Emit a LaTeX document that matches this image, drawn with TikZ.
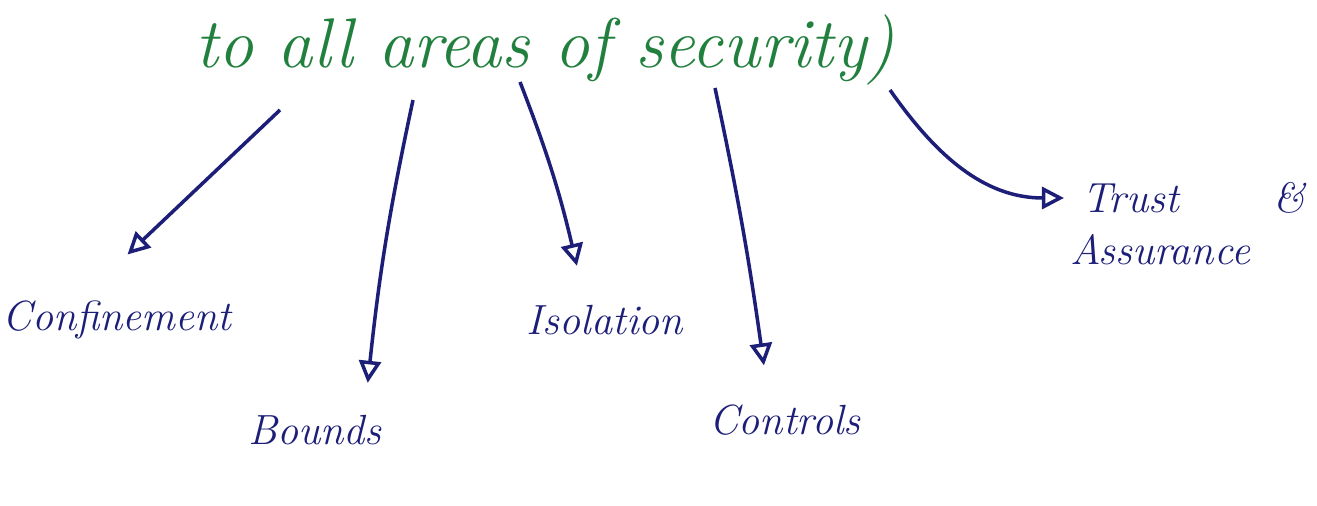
\documentclass[tikz,border=0pt]{standalone}
\usepackage{xcolor}
\usepackage{tikz}
\usetikzlibrary{arrows.meta}
\definecolor{inkgreen}{RGB}{34,128,62}
\definecolor{inknavy}{RGB}{28,30,120}

\begin{document}
\begin{tikzpicture}[
  term/.style={text=inknavy,font=\fontsize{12}{14}\selectfont\itshape,inner sep=1pt},
  head/.style={text=inkgreen,font=\fontsize{20}{22}\selectfont\itshape,inner sep=1pt},
  arr/.style={-{Triangle[open,length=2.2mm,width=2.2mm]},draw=inknavy,line width=1pt}
]
  \useasboundingbox (0,0) rectangle (13.17,-5.06);
  \node[head] (areas) at (5.45,-0.5) {to all areas of security)};

  % the five headings under the green line
  \node[term] (confine) at (1.17,-3.2) {Confinement};
  \node[term] (bounds) at (3.15,-4.3) {Bounds};
  \node[term] (isol) at (6.05,-3.2) {Isolation};
  \node[term] (ctrl) at (7.85,-4.2) {Controls};
  \node[term,anchor=west] (trust) at (10.78,-1.98) {Trust\hspace{0.95cm}\&};
  \node[term] (assure) at (11.6,-2.5) {Assurance};

  % start points of the strokes, just below the words
  \coordinate (s1) at (2.8,-1.1);
  \coordinate (s2) at (4.13,-1.0);
  \coordinate (s3) at (5.2,-0.82);
  \coordinate (s4) at (7.15,-0.88);
  \coordinate (s5) at (8.9,-0.9);

  \draw[arr] (s1) -- ([xshift=3pt,yshift=12pt]confine.north);
  \draw[arr] (s2) to[bend right=3] ([xshift=15pt,yshift=8pt]bounds.north);
  \draw[arr] (s3) to[bend left=4] ([xshift=-8pt,yshift=10pt]isol.north);
  \draw[arr] (s4) to[bend left=2] ([xshift=-6pt,yshift=10pt]ctrl.north);
  \draw[arr] (s5) to[out=-55,in=180] ([xshift=-4pt]trust.west);
\end{tikzpicture}
\end{document}
